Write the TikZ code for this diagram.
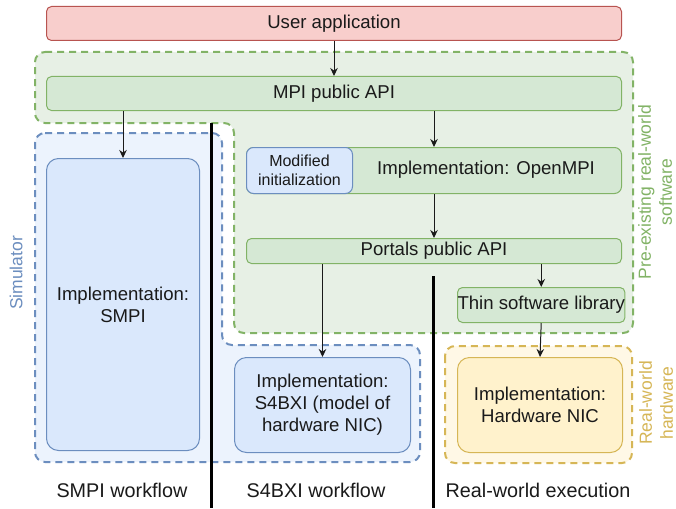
\documentclass[tikz,border=0pt]{standalone}
\usepackage{fontspec}
\setmainfont{Liberation Sans}
\usetikzlibrary{arrows.meta}
\definecolor{pinkfill}{HTML}{F8CECC}
\definecolor{pinkline}{HTML}{B85450}
\definecolor{greenfill}{HTML}{D5E8D4}
\definecolor{greenline}{HTML}{82B366}
\definecolor{bluefill}{HTML}{DAE8FC}
\definecolor{blueline}{HTML}{6C8EBF}
\definecolor{yellowfill}{HTML}{FFF2CC}
\definecolor{yellowline}{HTML}{D6B656}
\definecolor{greengroupfill}{HTML}{E7F0E5}
\definecolor{bluegroupfill}{HTML}{ECF3FD}
\definecolor{yellowgroupfill}{HTML}{FFF8E6}
\definecolor{txt}{HTML}{1A1A1A}
\begin{document}
\begin{tikzpicture}[x=1pt,y=-1pt,
  every node/.style={font=\fontsize{18.6}{22}\selectfont, text=txt, inner sep=0pt},
  boxbase/.style={draw, line width=1pt, anchor=north west, align=center},
  pinkbox/.style={boxbase, fill=pinkfill, draw=pinkline, rounded corners=5pt},
  greenbox/.style={boxbase, fill=greenfill, draw=greenline, rounded corners=5pt},
  bluebox/.style={boxbase, fill=bluefill, draw=blueline, rounded corners=8pt},
  yellowbox/.style={boxbase, fill=yellowfill, draw=yellowline, rounded corners=12pt},
  groupline/.style={line width=2pt, dash pattern=on 7pt off 5pt, rounded corners=10pt},
  arr/.style={draw=txt, line width=1pt, -{Stealth[length=8pt,width=7.5pt]}},
  divider/.style={draw=black, line width=3pt},
  sidelabel/.style={rotate=90, align=center, font=\fontsize{17.5}{21}\selectfont},
  bottomlabel/.style={font=\fontsize{19.8}{23}\selectfont}
]
\useasboundingbox (0,0) rectangle (676,508);
\fill[white] (0,0) rectangle (676,508);

% groups
\draw[groupline, draw=blueline, fill=bluegroupfill]
  (35,133) -- (222,133) -- (222,345) -- (420,345) -- (420,462) -- (35,462) -- cycle;
\draw[groupline, draw=greenline, fill=greengroupfill]
  (35,52) -- (633,52) -- (633,333) -- (234,333) -- (234,123) -- (35,123) -- cycle;
\draw[groupline, draw=yellowline, fill=yellowgroupfill]
  (445,346) rectangle (632,463);

% dividers
\coordinate (d1top) at (211,123);
\coordinate (d1bot) at (211,508);
\coordinate (d2top) at (433,276);
\coordinate (d2bot) at (433,508);
\draw[divider] (d1top) -- (d1bot);
\draw[divider] (d2top) -- (d2bot);

% boxes
\node[pinkbox, minimum width=575pt, minimum height=34pt] (user) at (46,6) {User application};
\node[greenbox, minimum width=575pt, minimum height=34pt] (mpi) at (46,76) {MPI public API};
\node[bluebox, minimum width=153pt, minimum height=292pt, rounded corners=12pt] (smpi) at (46,158) {Implementation:\\SMPI};
\node[greenbox, minimum width=375pt, minimum height=46pt, rounded corners=7pt] (openmpi) at (246,147) {};
\node[anchor=center] (openmpitext) at (486,170) {Implementation: OpenMPI};
\node[bluebox, minimum width=106pt, minimum height=46pt, rounded corners=7pt, font=\fontsize{16}{19.5}\selectfont] (modinit) at (246,147) {Modified\\initialization};
\node[greenbox, minimum width=375pt, minimum height=25pt] (portals) at (246,238) {Portals public API};
\node[greenbox, minimum width=164pt, minimum height=35pt] (thin) at (457,287) {Thin software library};
\node[bluebox, minimum width=176pt, minimum height=95pt, rounded corners=12pt] (s4bxi) at (234,357) {Implementation:\\S4BXI (model of\\hardware NIC)};
\node[yellowbox, minimum width=165pt, minimum height=95pt] (nic) at (457,357) {Implementation:\\Hardware NIC};

% connectors
\draw[arr] (user.south) -- (mpi.north);
\draw[arr] (mpi.south -| smpi.north) -- (smpi.north);
\draw[arr] (mpi.south -| openmpi.north) -- (openmpi.north);
\draw[arr] (openmpi.south) -- (portals.north);
\draw[arr] (portals.south -| thin.north) -- (thin.north);
\draw[arr] (portals.south -| s4bxi.north) -- (s4bxi.north);
\draw[arr] (thin.south) -- (nic.north);

% side labels
\node[sidelabel, text=blueline] (simlabel) at (16,273) {Simulator};
\node[sidelabel, text=greenline] (prelabel) at (655,192) {Pre-existing real-world\\software};
\node[sidelabel, text=yellowline] (hwlabel) at (656,403) {Real-world\\hardware};

% bottom labels
\node[bottomlabel] (smpiwf) at (122,490) {SMPI workflow};
\node[bottomlabel] (s4bxiwf) at (316,490) {S4BXI workflow};
\node[bottomlabel] (realwf) at (538,490) {Real-world execution};
\end{tikzpicture}
\end{document}
